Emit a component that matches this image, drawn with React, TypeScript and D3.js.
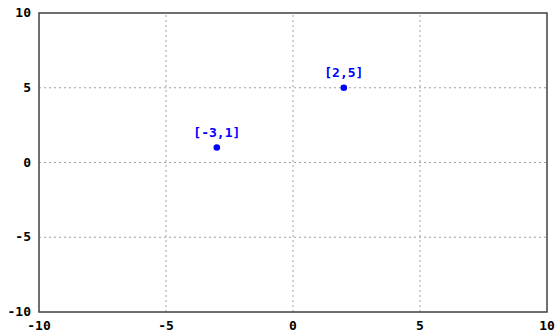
import React from 'react';
import * as d3 from 'd3';

const xTicks = [-10, -5, 0, 5, 10];
const yTicks = [-10, -5, 0, 5, 10];
const pointsX = [-3, 2];
const pointsY = [1, 5];

const W = 560;
const H = 333;
const m = {left: 39, right: 13, top: 13, bottom: 21};

const App = () => {
    const x = d3.scaleLinear().domain([-10, 10]).range([m.left, W - m.right]);
    const y = d3.scaleLinear().domain([-10, 10]).range([H - m.bottom, m.top]);
    const font = '"DejaVu Sans Mono", monospace';

    return (
        <svg width={W} height={H} style={{position: 'absolute', left: 0, top: 0}} fontFamily={font}>
            <rect width={W} height={H} fill="#fff"/>
            {/* grid */}
            {xTicks.slice(1, -1).map(t => (
                <line key={'gx' + t} x1={x(t)} x2={x(t)} y1={y(-10)} y2={y(10)}
                      stroke="#a0a0a0" strokeDasharray="2,3"/>
            ))}
            {yTicks.slice(1, -1).map(t => (
                <line key={'gy' + t} x1={x(-10)} x2={x(10)} y1={y(t)} y2={y(t)}
                      stroke="#a0a0a0" strokeDasharray="2,3"/>
            ))}
            {/* border */}
            <rect x={x(-10)} y={y(10)} width={x(10) - x(-10)} height={y(-10) - y(10)}
                  fill="none" stroke="#404040" strokeWidth={1.5}/>
            {/* tick labels */}
            {xTicks.map(t => (
                <text key={'tx' + t} x={x(t)} y={H - 3} textAnchor="middle"
                      fontSize={13} fontWeight="bold">{t}</text>
            ))}
            {yTicks.map(t => (
                <text key={'ty' + t} x={x(-10) - 8} y={y(t) + 4} textAnchor="end"
                      fontSize={13} fontWeight="bold">{t}</text>
            ))}
            {/* points */}
            {pointsX.map((px, i) => (
                <g key={'p' + i}>
                    <circle cx={x(px)} cy={y(pointsY[i])} r={3.3} fill="#0000ff"/>
                    <text x={x(px)} y={y(pointsY[i]) - 11} textAnchor="middle" fill="#0000ff"
                          fontSize={13} fontWeight="bold">[{px},{pointsY[i]}]</text>
                </g>
            ))}
        </svg>
    );
};

export default App;
